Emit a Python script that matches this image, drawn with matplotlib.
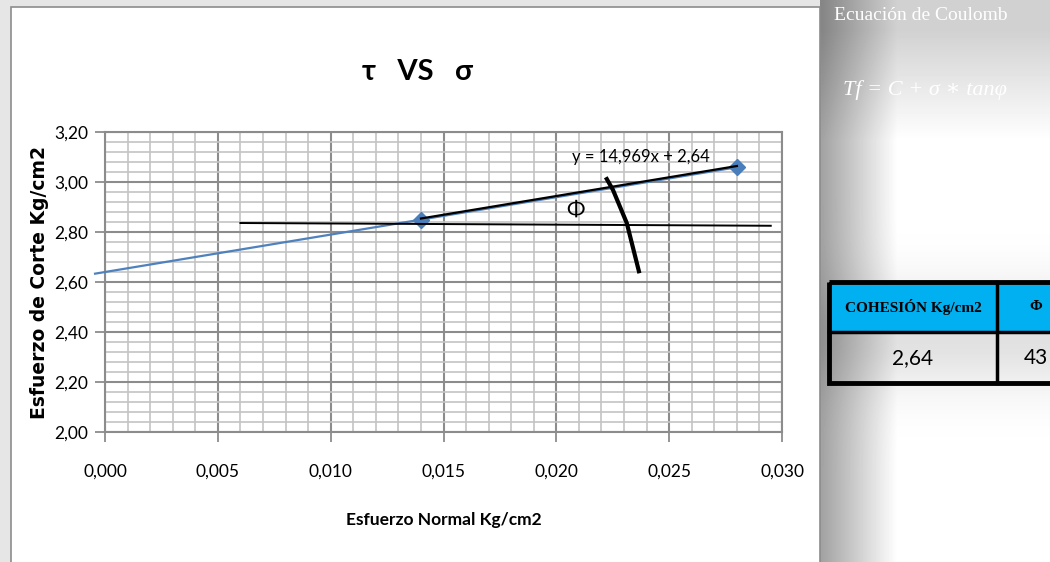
import matplotlib
matplotlib.use("Agg")
import matplotlib.pyplot as plt
import matplotlib.patches as mpatches
from matplotlib.ticker import MultipleLocator, FuncFormatter
import numpy as np

# ensayo de corte directo
sigma = [0.014, 0.028]          # esfuerzo normal Kg/cm2
tau = [2.85, 3.06]              # esfuerzo de corte Kg/cm2
slope = 14.969
cohesion = 2.64
phi_deg = 43
trend_x = [-0.00044, 0.028]

# lineas dibujadas a mano encima del grafico
ref_x = [0.0060, 0.0295]
ref_y = [2.836, 2.825]
arc_x = [0.02219, 0.02251, 0.02312, 0.02368]
arc_y = [3.019, 2.968, 2.836, 2.635]

narrow = ["Lato", "DejaVu Sans"]
serif = ["Liberation Serif", "DejaVu Serif"]

fig = plt.figure(figsize=(10.5, 5.62), dpi=100)
fig.patch.set_facecolor("#e6e6e6")

# fondo gris a la derecha (sombra de la hoja)
bg = fig.add_axes([0, 0, 1, 1], zorder=-5)
bg.set_xlim(0, 1050)
bg.set_ylim(562, 0)
bg.axis("off")
xx, yy = np.meshgrid(np.arange(820, 1050), np.arange(0, 562))
gx = 0.64 + 0.36 * np.clip((xx - 822) / 75.0, 0, 1)
gy = 0.82 + 0.18 * np.clip((yy - 30) / 110.0, 0, 1)
gt = 1 - 0.12 * np.exp(-((yy - 335) / 55.0) ** 2)
shade = gx * gy * gt
bg.imshow(shade, cmap="gray", vmin=0, vmax=1, extent=[820, 1050, 562, 0],
          aspect="auto", interpolation="bilinear")
bg.add_patch(mpatches.Rectangle((11, 7), 809, 560, facecolor="white",
                                edgecolor="#8c8c8c", lw=1.2))

ax = fig.add_axes([0.1, 0.2313, 0.6448, 0.5338])
ax.set_facecolor("white")

xs = np.array(trend_x)
ax.plot(xs, slope * xs + cohesion, color="#4f81bd", lw=1.6, clip_on=False, zorder=3)
ax.plot(sigma, tau, linestyle="none", marker="D", ms=8, color="#4a7ebb", zorder=4)

ax.plot(sigma, [t + 0.004 for t in tau], color="black", lw=1.6, zorder=5)
ax.plot(ref_x, ref_y, color="black", lw=1.4, clip_on=False, zorder=5)
ax.plot(arc_x, arc_y, color="black", lw=3, solid_capstyle="butt", zorder=5)
ax.text(0.02085, 2.888, "Φ", fontsize=16, family=narrow, ha="center", va="center", zorder=6)
ax.text(0.0207, 3.10, "y = 14,969x + 2,64", fontsize=12, family=narrow,
        ha="left", va="center", zorder=6)

ax.set_xlim(0, 0.030)
ax.set_ylim(2.0, 3.2)
ax.xaxis.set_major_locator(MultipleLocator(0.005))
ax.xaxis.set_minor_locator(MultipleLocator(0.001))
ax.yaxis.set_major_locator(MultipleLocator(0.2))
ax.yaxis.set_minor_locator(MultipleLocator(0.04))
ax.xaxis.set_major_formatter(FuncFormatter(lambda v, p: f"{v:.3f}".replace(".", ",")))
ax.yaxis.set_major_formatter(FuncFormatter(lambda v, p: f"{v:.2f}".replace(".", ",")))
ax.grid(which="major", color="#8c8c8c", lw=1.5)
ax.grid(which="minor", color="#c4c4c4", lw=1.2)
ax.set_axisbelow(True)
ax.tick_params(which="major", direction="out", length=7, width=1.3, color="#8c8c8c",
               labelsize=12.5, pad=5)
ax.tick_params(which="minor", length=0)
ax.tick_params(axis="x", pad=16)
for lab in ax.get_xticklabels() + ax.get_yticklabels():
    lab.set_family(narrow)
for s in ax.spines.values():
    s.set_color("#8c8c8c")
    s.set_linewidth(1.5)

ax.text(0.461, 1.2, "τ   VS   σ", transform=ax.transAxes, fontsize=21, fontweight="bold",
        family=narrow, ha="center", va="center")
ax.set_xlabel("Esfuerzo Normal Kg/cm2", fontsize=12.5, fontweight="bold", family=narrow)
ax.xaxis.set_label_coords(0.5, -0.293)
ax.xaxis.label.set_va("center")
ax.set_ylabel("Esfuerzo de Corte Kg/cm2", fontsize=13.5, fontweight="bold",
              family="DejaVu Sans")
ax.yaxis.set_label_coords(-0.097, 0.5)
ax.yaxis.label.set_va("center")

# recuadro de la derecha
fig.text(834 / 1050, 1 - 15 / 562, "Ecuación de Coulomb", color="white", fontsize=14,
         family=serif, ha="left", va="center")
fig.text(843 / 1050, 1 - 90 / 562, "Tf = C + σ ∗ tanφ", color="white", fontsize=16,
         family=serif, style="italic", ha="left", va="center")

tb = fig.add_axes([0, 0, 1, 1], zorder=5)
tb.set_xlim(0, 1050)
tb.set_ylim(562, 0)
tb.axis("off")
tb.add_patch(mpatches.Rectangle((829, 282), 240, 50, facecolor="#00b0f0", edgecolor="none"))
tb.add_patch(mpatches.Rectangle((829, 282), 240, 101, facecolor="none", edgecolor="black",
                                lw=3.5, clip_on=False))
tb.plot([829, 1069], [332, 332], color="black", lw=2.5)
tb.plot([997, 997], [282, 383], color="black", lw=2.5)
tb.text(913, 307, "COHESIÓN Kg/cm2", fontsize=11, fontweight="bold", family=serif,
        ha="center", va="center")
tb.text(1036, 307, "Φ", fontsize=11, fontweight="bold", family=serif, ha="center", va="center")
tb.text(913, 358, f"{cohesion:.2f}".replace(".", ","), fontsize=15, family=narrow,
        ha="center", va="center")
tb.text(1036, 358, str(phi_deg), fontsize=15, family=narrow, ha="center", va="center")

fig.savefig("out.png", dpi=100)
